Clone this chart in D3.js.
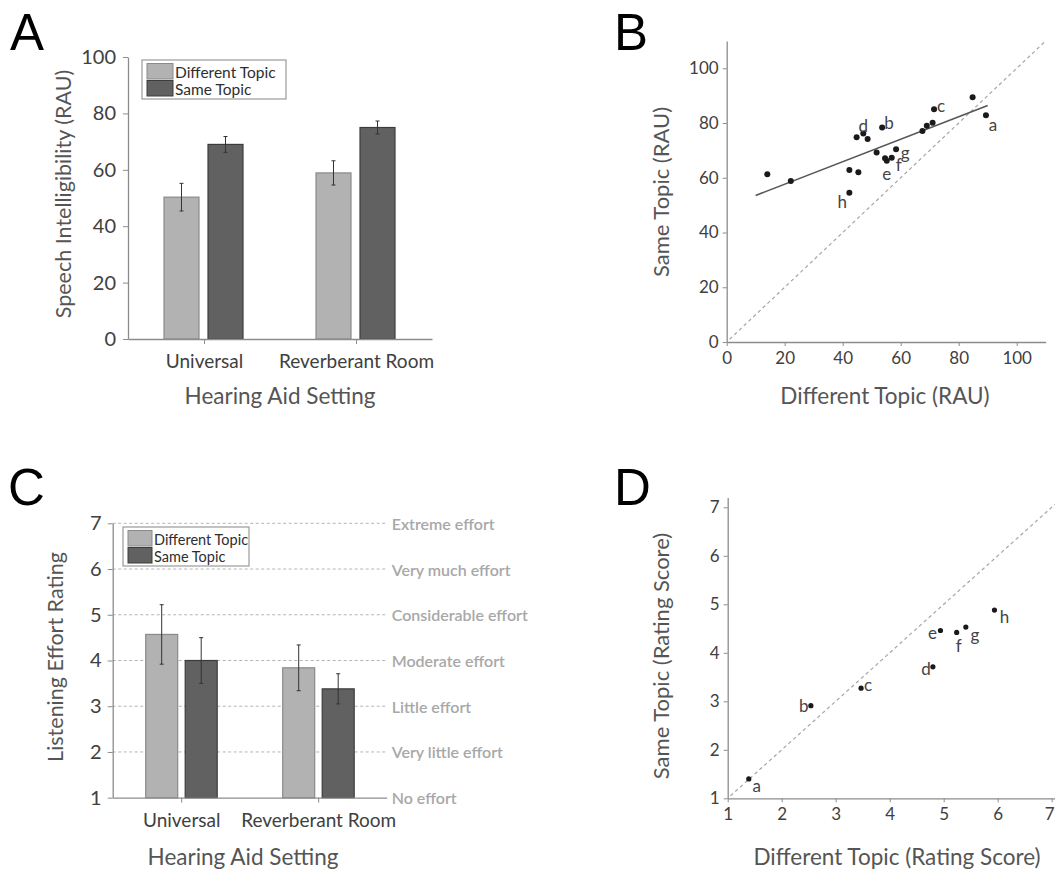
<!DOCTYPE html>
<html>
<head>
<meta charset="utf-8">
<script src="https://cdn.jsdelivr.net/npm/d3@7"></script>
<style>
  body { margin: 0; background: #fff; }
  text { font-family: Lato, "Open Sans", sans-serif; }
</style>
</head>
<body>
<div id="figure"></div>
<script>
// ---- data ----
var categories = ["Universal", "Reverberant Room"];
var seriesNames = ["Different Topic", "Same Topic"];

// panel A: speech intelligibility (RAU), mean and error
var intelDiff = [50.3, 58.9];
var intelSame = [69.0, 75.0];
var intelDiffErr = [4.9, 4.3];
var intelSameErr = [2.8, 2.3];

// panel C: listening effort rating
var effortDiff = [4.57, 3.84];
var effortSame = [4.0, 3.38];
var effortDiffErr = [0.65, 0.5];
var effortSameErr = [0.5, 0.33];
var effortLevels = ["No effort", "Very little effort", "Little effort", "Moderate effort",
  "Considerable effort", "Very much effort", "Extreme effort"];

// panel B: individual listeners, RAU
var rauDiff = [14.0, 22.1, 42.3, 45.4, 42.3, 44.8, 47.1, 48.6, 53.6, 51.7,
  54.6, 55.2, 56.9, 58.4, 67.5, 69.0, 71.0, 71.5, 84.8, 89.4];
var rauSame = [61.3, 58.8, 62.8, 62.0, 54.5, 74.8, 76.2, 74.2, 78.4, 69.2,
  67.1, 66.2, 67.3, 70.4, 77.1, 79.0, 80.1, 85.0, 89.4, 82.8];
var rauTags = ["", "", "", "", "h", "", "d", "", "b", "",
  "", "e", "f", "g", "", "", "", "c", "", "a"];
var rauFitRange = [10, 90];

// panel D: rating scores
var ratingDiff = [1.39, 2.54, 3.47, 4.80, 4.94, 5.24, 5.41, 5.94];
var ratingSame = [1.40, 2.91, 3.27, 3.71, 4.46, 4.42, 4.53, 4.88];
var ratingTags = ["a", "b", "c", "d", "e", "f", "g", "h"];

// label nudges (pixels) so letters sit where the original puts them
var rauTagOffset = {a: [7, 9], b: [7, -5], c: [7, -4], d: [0, -8], e: [0, 13], f: [7, 7], g: [9, 3], h: [-7, 9]};
var ratingTagOffset = {a: [8, 7], b: [-7, 0], c: [7, -4], d: [-7, 2], e: [-8, 2], f: [2, 13], g: [9, 7], h: [10, 6]};

var W = 1055, H = 872;
var lightFill = "#b2b2b2", lightStroke = "#8a8a8a";
var darkFill = "#616161", darkStroke = "#3c3c3c";
var axisColor = "#8c8c8c", tickText = "#404040", titleText = "#555";

var svg = d3.select("#figure").append("svg")
  .attr("width", W).attr("height", H)
  .style("display", "block");
svg.append("rect").attr("width", W).attr("height", H).attr("fill", "#fff");

function styleAxis(g, fs) {
  g.select(".domain").attr("stroke", axisColor).attr("stroke-width", 1.3);
  g.selectAll(".tick line").attr("stroke", axisColor);
  g.selectAll(".tick text").attr("fill", tickText).style("font-size", fs + "px")
    .style("font-family", "Lato, 'Open Sans', sans-serif");
}

function panelLetter(txt, x, y) {
  svg.append("text").attr("x", x).attr("y", y).text(txt)
    .style("font-family", "'Liberation Sans', Arial, sans-serif")
    .style("font-size", "51px").attr("fill", "#000");
}

function title(txt, x, y, rotate, fs) {
  var t = svg.append("text")
    .attr("text-anchor", "middle").attr("dominant-baseline", "central")
    .attr("fill", titleText).style("font-size", fs + "px").text(txt);
  if (rotate) t.attr("transform", "translate(" + x + "," + y + ") rotate(-90)");
  else t.attr("x", x).attr("y", y);
}

function legend(box) {
  var g = svg.append("g");
  g.append("rect").attr("x", box.x).attr("y", box.y).attr("width", box.w).attr("height", box.h)
    .attr("fill", "#fff").attr("stroke", "#9a9a9a").attr("stroke-width", 1.2);
  seriesNames.forEach(function(name, i) {
    var y0 = box.y + 3.5 + i * box.row;
    g.append("rect").attr("x", box.x + 5).attr("y", y0).attr("width", box.sw).attr("height", box.row - 1.5)
      .attr("fill", i ? darkFill : lightFill).attr("stroke", i ? darkStroke : lightStroke);
    g.append("text").attr("x", box.x + 7 + box.sw).attr("y", y0 + box.row / 2)
      .attr("dominant-baseline", "central").attr("fill", "#2e2e2e")
      .style("font-size", box.fs + "px").text(name);
  });
}

// grouped bar chart with error bars
function barPanel(p) {
  var x = d3.scalePoint().domain(categories).range(p.xRange).padding(0.5);
  var sub = d3.scaleBand().domain(seriesNames).range(p.subRange).paddingInner(p.subPad);
  var y = d3.scaleLinear().domain(p.yDomain).range(p.yRange);

  if (p.grid) {
    svg.append("g").selectAll("line").data(p.grid).enter().append("line")
      .attr("x1", p.xRange[0]).attr("x2", p.gridEnd)
      .attr("y1", function(d) { return y(d); }).attr("y2", function(d) { return y(d); })
      .attr("stroke", "#b4b4b4").attr("stroke-dasharray", "3,2.5");
    svg.append("g").selectAll("text").data(p.gridLabels).enter().append("text")
      .attr("x", p.gridEnd + 5).attr("y", function(d, i) { return y(i + 1); })
      .attr("dominant-baseline", "central").attr("fill", "#a8a8a8")
      .style("font-size", "16px").style("font-weight", 600).text(function(d) { return d; });
  }

  var rows = [];
  categories.forEach(function(c, i) {
    rows.push({cat: c, s: seriesNames[0], v: p.diff[i], e: p.diffErr[i]});
    rows.push({cat: c, s: seriesNames[1], v: p.same[i], e: p.sameErr[i]});
  });

  var bars = svg.append("g");
  bars.selectAll("rect").data(rows).enter().append("rect")
    .attr("x", function(d) { return x(d.cat) + sub(d.s); })
    .attr("width", sub.bandwidth())
    .attr("y", function(d) { return y(d.v); })
    .attr("height", function(d) { return y(p.yDomain[0]) - y(d.v); })
    .attr("fill", function(d) { return d.s === seriesNames[0] ? lightFill : darkFill; })
    .attr("stroke", function(d) { return d.s === seriesNames[0] ? lightStroke : darkStroke; })
    .attr("stroke-width", 1.2);

  var err = svg.append("g").attr("stroke", "#333").attr("stroke-width", 1);
  rows.forEach(function(d) {
    var cx = x(d.cat) + sub(d.s) + sub.bandwidth() / 2;
    err.append("line").attr("x1", cx).attr("x2", cx).attr("y1", y(d.v + d.e)).attr("y2", y(d.v - d.e));
    err.append("line").attr("x1", cx - 2).attr("x2", cx + 2).attr("y1", y(d.v + d.e)).attr("y2", y(d.v + d.e));
    err.append("line").attr("x1", cx - 2).attr("x2", cx + 2).attr("y1", y(d.v - d.e)).attr("y2", y(d.v - d.e));
  });

  var ya = svg.append("g").attr("transform", "translate(" + p.xRange[0] + ",0)")
    .call(d3.axisLeft(y).tickValues(p.yTicks).tickFormat(d3.format("d"))
      .tickSize(5).tickSizeOuter(0).tickPadding(p.yPad));
  styleAxis(ya, p.tickFs);
  var xa = svg.append("g").attr("transform", "translate(0," + y(p.yDomain[0]) + ")")
    .call(d3.axisBottom(x).tickSize(5).tickSizeOuter(0).tickPadding(11));
  styleAxis(xa, 19);

  legend(p.legend);
  title(p.yTitle, p.yTitlePos[0], p.yTitlePos[1], true, p.yTitleFs);
  title("Hearing Aid Setting", p.xTitlePos[0], p.xTitlePos[1], false, 22.5);
}

// scatter of same vs different topic with identity line
function scatterPanel(p) {
  var x = d3.scaleLinear().domain(p.xDomain).range(p.xRange);
  var y = d3.scaleLinear().domain(p.yDomain).range(p.yRange);
  var lo = p.diagFrom, hi = p.diagTo;

  svg.append("line")
    .attr("x1", x(lo)).attr("y1", y(lo)).attr("x2", x(hi)).attr("y2", y(hi))
    .attr("stroke", "#a6a6a6").attr("stroke-width", 1.2).attr("stroke-dasharray", "3.5,3");

  if (p.fit) {
    // least squares line through the points
    var mx = d3.mean(p.xs), my = d3.mean(p.ys);
    var sxy = d3.sum(p.xs, function(v, i) { return (v - mx) * (p.ys[i] - my); });
    var sxx = d3.sum(p.xs, function(v) { return (v - mx) * (v - mx); });
    var b = sxy / sxx, a = my - b * mx;
    svg.append("line")
      .attr("x1", x(p.fit[0])).attr("y1", y(a + b * p.fit[0]))
      .attr("x2", x(p.fit[1])).attr("y2", y(a + b * p.fit[1]))
      .attr("stroke", "#555").attr("stroke-width", 1.6);
  }

  var pts = p.xs.map(function(v, i) { return {x: v, y: p.ys[i], t: p.tags[i]}; });
  svg.append("g").selectAll("circle").data(pts).enter().append("circle")
    .attr("cx", function(d) { return x(d.x); })
    .attr("cy", function(d) { return y(d.y); })
    .attr("r", p.r).attr("fill", "#1a1a1a");

  svg.append("g").selectAll("text").data(pts.filter(function(d) { return d.t; })).enter().append("text")
    .attr("x", function(d) { return x(d.x) + p.offsets[d.t][0]; })
    .attr("y", function(d) { return y(d.y) + p.offsets[d.t][1]; })
    .attr("text-anchor", "middle").attr("dominant-baseline", "central")
    .attr("fill", "#444").style("font-size", "17px")
    .text(function(d) { return d.t; });

  var ya = svg.append("g").attr("transform", "translate(" + p.xRange[0] + ",0)")
    .call(d3.axisLeft(y).tickValues(p.ticks).tickFormat(d3.format("d"))
      .tickSize(4).tickSizeOuter(0).tickPadding(4));
  styleAxis(ya, 17);
  var xa = svg.append("g").attr("transform", "translate(0," + p.yRange[0] + ")")
    .call(d3.axisBottom(x).tickValues(p.ticks).tickFormat(d3.format("d"))
      .tickSize(4).tickSizeOuter(0).tickPadding(6));
  styleAxis(xa, 17);
  // keep a tick label that would run off the page edge inside it
  xa.selectAll(".tick text")
    .filter(function(d) { return x(d) + 5 > W; })
    .attr("text-anchor", "end").attr("dx", (W - 1 - x(p.ticks[p.ticks.length - 1])) + "px");

  title(p.yTitle, p.yTitlePos[0], p.yTitlePos[1], true, 22);
  title(p.xTitle, p.xTitlePos[0], p.xTitlePos[1], false, 22.5);
}

barPanel({
  diff: intelDiff, same: intelSame, diffErr: intelDiffErr, sameErr: intelSameErr,
  xRange: [128, 432], subRange: [-40, 39], subPad: 0.205,
  yDomain: [0, 100], yRange: [339, 57], yTicks: [0, 20, 40, 60, 80, 100], yPad: 7, tickFs: 20,
  legend: {x: 142, y: 60, w: 144, h: 39, sw: 26, row: 17, fs: 15.5},
  yTitle: "Speech Intelligibility (RAU)", yTitleFs: 21.5, yTitlePos: [63, 194], xTitlePos: [280, 395]
});

barPanel({
  diff: effortDiff, same: effortSame, diffErr: effortDiffErr, sameErr: effortSameErr,
  xRange: [112.7, 386.7], subRange: [-35.5, 36], subPad: 0.19,
  yDomain: [1, 7], yRange: [797.7, 523.3], yTicks: [1, 2, 3, 4, 5, 6, 7], yPad: 6, tickFs: 20,
  grid: [2, 3, 4, 5, 6, 7], gridEnd: 386.7, gridLabels: effortLevels,
  legend: {x: 123, y: 527, w: 126, h: 39, sw: 24, row: 17, fs: 14.5},
  yTitle: "Listening Effort Rating", yTitleFs: 21.5, yTitlePos: [55, 657], xTitlePos: [243, 856]
});

scatterPanel({
  xs: rauDiff, ys: rauSame, tags: rauTags, offsets: rauTagOffset, fit: rauFitRange, r: 3,
  xDomain: [0, 110], xRange: [726.7, 1045.7], yDomain: [0, 110], yRange: [342, 40.9],
  ticks: [0, 20, 40, 60, 80, 100], diagFrom: 1, diagTo: 110,
  yTitle: "Same Topic (RAU)", yTitlePos: [660, 192],
  xTitle: "Different Topic (RAU)", xTitlePos: [885, 395]
});

scatterPanel({
  xs: ratingDiff, ys: ratingSame, tags: ratingTags, offsets: ratingTagOffset, r: 2.6,
  xDomain: [1, 7.2], xRange: [727.7, 1062.5], yDomain: [1, 7.2], yRange: [798.3, 497.6],
  ticks: [1, 2, 3, 4, 5, 6, 7], diagFrom: 1.05, diagTo: 7.2,
  yTitle: "Same Topic (Rating Score)", yTitlePos: [660, 656],
  xTitle: "Different Topic (Rating Score)", xTitlePos: [897, 856]
});

panelLetter("A", 10, 50);
panelLetter("B", 614, 50);
panelLetter("C", 8, 505);
panelLetter("D", 614, 505);
</script>
</body>
</html>
